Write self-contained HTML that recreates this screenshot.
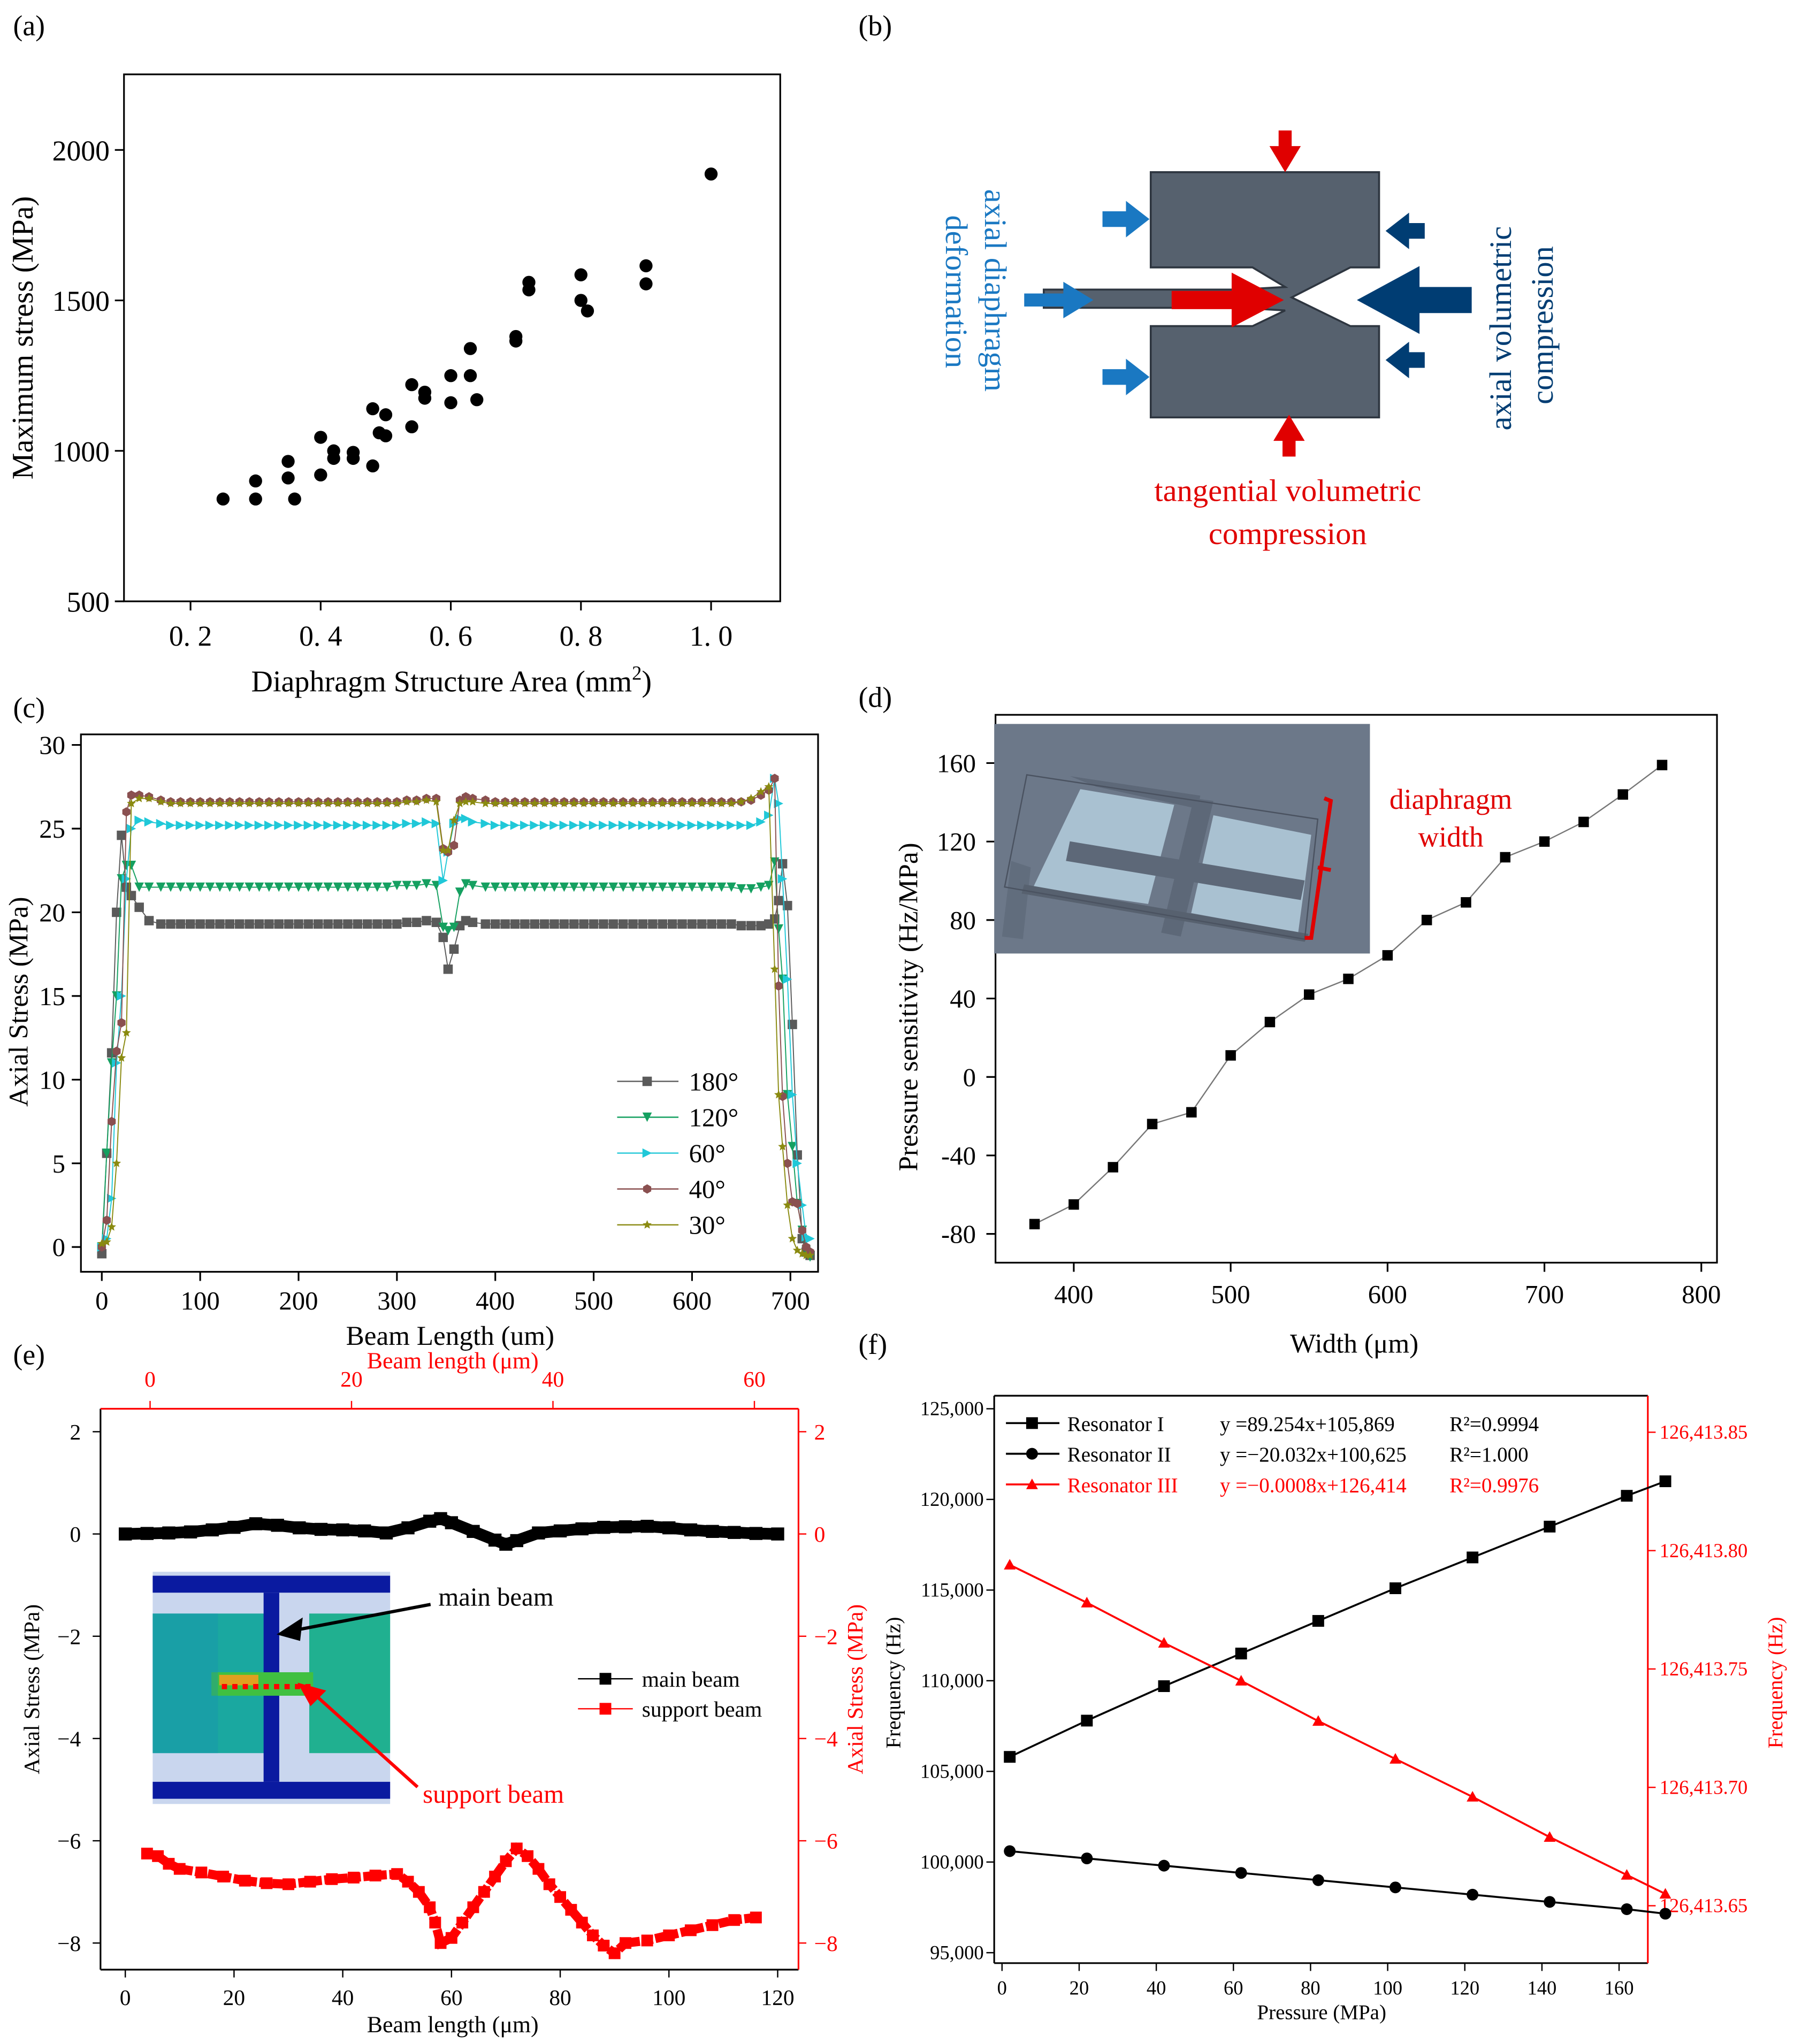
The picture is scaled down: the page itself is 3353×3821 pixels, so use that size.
<!DOCTYPE html>
<html><head><meta charset="utf-8"><style>
html,body{margin:0;padding:0;background:#fff}
svg{display:block}
text{font-family:"Liberation Serif","DejaVu Serif",serif}
</style></head><body>
<svg id="chart" xmlns="http://www.w3.org/2000/svg" width="3353" height="3821" viewBox="0 0 1375 1567">
<rect width="1375" height="1567" fill="#fff"/>
<g id="static" font-size="22">
<text x="10" y="27">(a)</text>
<text x="658" y="27">(b)</text>
<text x="10" y="550">(c)</text>
<text x="658" y="542">(d)</text>
<text x="10" y="1046">(e)</text>
<text x="658" y="1038">(f)</text>

<g>
<path d="M882,132 H1057 V205 H1035 L990,228 L1035,250 H1057 V320 H882 V250 H960 L985,238 L950,236 H800 V222 H950 L985,220 L960,205 H882 Z" fill="#56616e" stroke="#2e3640" stroke-width="1.5"/>
<g>
<path d="M980,100 h10 v12 h7 l-12,20 l-12,-20 h7z" fill="#e00000"/>
<path d="M983,350 h10 v-12 h7 l-12,-20 l-12,20 h7z" fill="#e00000"/>
<path d="M845,162 h18 v-8 l18,14 l-18,14 v-8 h-18z" fill="#1a78c2"/>
<path d="M845,283 h18 v-8 l18,14 l-18,14 v-8 h-18z" fill="#1a78c2"/>
<path d="M785,225 h30 v-9 l23,14 l-23,14 v-9 h-30z" fill="#1a78c2"/>
<path d="M898,223 h46 v-14 l40,21 l-40,21 v-14 h-46z" fill="#e00000"/>
<path d="M1092,171 h-12 v-8 l-18,14 l18,14 v-8 h12z" fill="#003d73"/>
<path d="M1092,270 h-12 v-8 l-18,14 l18,14 v-8 h12z" fill="#003d73"/>
<path d="M1128,220 h-40 v-16 l-48,26 l48,26 v-16 h40z" fill="#003d73"/>
</g>
<text font-size="24" fill="#1a78c2" transform="translate(755,145) rotate(90)">axial diaphragm</text>
<text font-size="24" fill="#1a78c2" transform="translate(725,165) rotate(90)">deformation</text>
<text font-size="24" fill="#003d73" transform="translate(1158,330) rotate(-90)">axial volumetric</text>
<text font-size="24" fill="#003d73" transform="translate(1190,310) rotate(-90)">compression</text>
<text font-size="24" fill="#e00000" x="987" y="384" text-anchor="middle">tangential volumetric</text>
<text font-size="24" fill="#e00000" x="987" y="417" text-anchor="middle">compression</text>
</g>

<g>
<rect x="762" y="555" width="288" height="176" fill="#6c7889"/>
<polygon points="820,595 920,610 918,620 840,603" fill="#5d6878"/>
<polygon points="828,605 900,617 880,693 792,680" fill="#a9c1d1"/>
<polygon points="930,625 1005,640 995,715 913,700" fill="#a9c1d1"/>
<polygon points="820,645 1000,675 997,690 817,660" fill="#5d6878"/>
<polygon points="915,612 930,614 905,718 890,715" fill="#5d6878"/>
<polygon points="775,660 790,665 784,720 768,718" fill="#5d6878" opacity=".7"/>
<polygon points="785,678 1003,716 1000,722 783,685" fill="#57616f"/>
<polygon points="787,594 1010,628 1000,720 770,680" fill="none" stroke="#4a5260" stroke-width="1"/>
<path d="M1015,612 l5,2 l-15,105 l-5,0 M1010,665 l10,2" stroke="#e00000" stroke-width="3" fill="none"/>
</g>
<text font-size="22" fill="#e00000" x="1112" y="620" text-anchor="middle">diaphragm</text>
<text font-size="22" fill="#e00000" x="1112" y="649" text-anchor="middle">width</text>

<g>
<rect x="117" y="1205" width="182" height="178" fill="#c9d6ee"/>
<rect x="117" y="1208" width="182" height="13" fill="#0a1aa0"/>
<rect x="117" y="1366" width="182" height="13" fill="#0a1aa0"/>
<rect x="117" y="1237" width="90" height="107" fill="#1aa8a0"/>
<rect x="237" y="1237" width="62" height="107" fill="#20b090"/>
<rect x="202" y="1221" width="12" height="145" fill="#0a1aa0"/>
<rect x="162" y="1282" width="78" height="18" fill="#40c040"/>
<rect x="168" y="1284" width="30" height="8" fill="#e0a020"/>
<line x1="170" y1="1293" x2="240" y2="1293" stroke="#f00" stroke-width="4" stroke-dasharray="4,4"/>
<rect x="117" y="1237" width="50" height="107" fill="#1890b0" opacity=".4"/>
</g>
<line x1="330" y1="1230" x2="225" y2="1250" stroke="#000" stroke-width="2.5"/>
<polygon points="212,1253 232,1240 230,1258" fill="#000"/>
<line x1="320" y1="1370" x2="240" y2="1298" stroke="#f00" stroke-width="2.5"/>
<polygon points="228,1290 250,1296 238,1308" fill="#f00"/>
<text font-size="20" x="336" y="1231">main beam</text>
<text font-size="20" fill="#f00" x="324" y="1382">support beam</text>
</g>
<g id="dyn"></g>
</svg>
<script>
const NS='http://www.w3.org/2000/svg';
const root=document.getElementById('dyn');
function mk(tag,attrs,parent){const e=document.createElementNS(NS,tag);for(const k in attrs)e.setAttribute(k,attrs[k]);(parent||root).appendChild(e);return e;}
function txt(s,attrs,parent){const e=mk('text',attrs,parent);e.textContent=s;return e;}

const aX=[0.25,0.30,0.30,0.35,0.35,0.36,0.40,0.40,0.42,0.42,0.45,0.45,0.48,0.48,0.49,0.50,0.50,0.54,0.54,0.56,0.56,0.60,0.60,0.63,0.63,0.64,0.70,0.70,0.72,0.72,0.80,0.80,0.81,0.90,0.90,1.00];
const aY=[840,900,840,965,910,840,1045,920,1000,975,995,975,1140,950,1060,1120,1050,1220,1080,1195,1175,1250,1160,1340,1250,1170,1380,1365,1560,1535,1585,1500,1465,1615,1555,1920];
const aXTicks=[0.2,0.4,0.6,0.8,1.0];
const aXLabels=['0. 2','0. 4','0. 6','0. 8','1. 0'];
const aYTicks=[500,1000,1500,2000];

const cX=[0,5,10,15,20,25,30,38,48,60,70,80,90,100,110,120,130,140,150,160,170,180,190,200,210,220,230,240,250,260,270,280,290,300,310,320,330,340,347,352,358,364,370,377,390,400,410,420,430,440,450,460,470,480,490,500,510,520,530,540,550,560,570,580,590,600,610,620,630,640,650,660,670,678,684,688,692,697,702,707,712,716,720];
const c180=[-0.4,5.6,11.6,20,24.6,21.5,21,20.3,19.5,19.3,19.3,19.3,19.3,19.3,19.3,19.3,19.3,19.3,19.3,19.3,19.3,19.3,19.3,19.3,19.3,19.3,19.3,19.3,19.3,19.3,19.3,19.3,19.3,19.3,19.4,19.4,19.5,19.4,18.5,16.6,17.8,19.2,19.5,19.4,19.3,19.3,19.3,19.3,19.3,19.3,19.3,19.3,19.3,19.3,19.3,19.3,19.3,19.3,19.3,19.3,19.3,19.3,19.3,19.3,19.3,19.3,19.3,19.3,19.3,19.3,19.2,19.2,19.2,19.3,19.6,20.7,22.9,20.4,13.3,5.5,0.5,-0.3,-0.5];
const c120=[0,5.6,11,15,22,22.8,22.8,21.5,21.5,21.5,21.5,21.5,21.5,21.5,21.5,21.5,21.5,21.5,21.5,21.5,21.5,21.5,21.5,21.5,21.5,21.5,21.5,21.5,21.5,21.5,21.5,21.5,21.5,21.6,21.6,21.6,21.7,21.6,19.1,18.9,19.1,21.2,21.7,21.6,21.5,21.5,21.5,21.5,21.5,21.5,21.5,21.5,21.5,21.5,21.5,21.5,21.5,21.5,21.5,21.5,21.5,21.5,21.5,21.5,21.5,21.5,21.5,21.5,21.5,21.5,21.4,21.4,21.5,21.6,23,19,16,9.1,6,2.6,1,-0.2,-0.6];
const c60=[0,0.5,2.9,11,15,22,25,25.5,25.4,25.3,25.2,25.2,25.2,25.2,25.2,25.2,25.2,25.2,25.2,25.2,25.2,25.2,25.2,25.2,25.2,25.2,25.2,25.2,25.2,25.2,25.2,25.2,25.2,25.2,25.3,25.3,25.4,25.3,21.9,23.6,25.3,25.6,25.6,25.4,25.3,25.2,25.2,25.2,25.2,25.2,25.2,25.2,25.2,25.2,25.2,25.2,25.2,25.2,25.2,25.2,25.2,25.2,25.2,25.2,25.2,25.2,25.2,25.2,25.2,25.2,25.2,25.2,25.4,25.8,28,26.5,22,16,9.1,5,2.5,0.6,0.5];
const c40=[0,1.6,7.5,11.7,13.4,26,27,27,26.9,26.7,26.6,26.6,26.6,26.6,26.6,26.6,26.6,26.6,26.6,26.6,26.6,26.6,26.6,26.6,26.6,26.6,26.6,26.6,26.6,26.6,26.6,26.6,26.6,26.6,26.7,26.7,26.8,26.8,23.8,23.6,24,26.7,26.9,26.8,26.7,26.6,26.6,26.6,26.6,26.6,26.6,26.6,26.6,26.6,26.6,26.6,26.6,26.6,26.6,26.6,26.6,26.6,26.6,26.6,26.6,26.6,26.6,26.6,26.6,26.6,26.6,26.7,27.0,27.3,28,15.6,9,5,2.7,2.6,1,0,-0.3];
const c30=[0.2,0.3,1.2,5,11.3,12.8,26.5,26.8,26.8,26.6,26.5,26.5,26.5,26.5,26.5,26.5,26.5,26.5,26.5,26.5,26.5,26.5,26.5,26.5,26.5,26.5,26.5,26.5,26.5,26.5,26.5,26.5,26.5,26.5,26.6,26.6,26.7,26.6,23.7,23.7,25.5,26.5,26.6,26.6,26.5,26.5,26.5,26.5,26.5,26.5,26.5,26.5,26.5,26.5,26.5,26.5,26.5,26.5,26.5,26.5,26.5,26.5,26.5,26.5,26.5,26.5,26.5,26.5,26.5,26.5,26.6,26.8,27.2,27.5,16.6,9.1,6,2.5,0.5,-0.2,-0.4,-0.5,-0.5];
const cXTicks=[0,100,200,300,400,500,600,700];
const cYTicks=[0,5,10,15,20,25,30];

const dX=[375,400,425,450,475,500,525,550,575,600,625,650,675,700,725,750,775];
const dY=[-75,-65,-46,-24,-18,11,28,42,50,62,80,89,112,120,130,144,159];
const dXTicks=[400,500,600,700,800];
const dYTicks=[-80,-40,0,40,80,120,160];

const eMainX=[0,4,8,12,16,20,24,28,32,36,40,44,48,52,56,58,60,64,68,70,72,76,80,84,88,92,96,100,104,108,112,116,120];
const eMainY=[0,0.01,0.02,0.04,0.08,0.13,0.2,0.17,0.12,0.09,0.08,0.06,0.02,0.12,0.25,0.3,0.22,0.05,-0.12,-0.2,-0.13,0.02,0.06,0.1,0.13,0.14,0.15,0.12,0.08,0.05,0.03,0.01,0];
const eSupX=[4,6,8,10,14,18,22,26,30,34,38,42,46,50,52,54,56,57,58,60,62,64,66,68,70,72,74,76,78,80,82,84,86,88,90,92,96,100,104,108,112,116];
const eSupY=[-6.25,-6.3,-6.45,-6.55,-6.62,-6.7,-6.78,-6.83,-6.85,-6.8,-6.75,-6.72,-6.68,-6.65,-6.8,-7.0,-7.3,-7.6,-8.0,-7.9,-7.6,-7.3,-7.0,-6.7,-6.4,-6.15,-6.3,-6.55,-6.85,-7.1,-7.35,-7.6,-7.85,-8.05,-8.2,-8.0,-7.95,-7.85,-7.75,-7.65,-7.55,-7.5];
const eBotTicks=[0,20,40,60,80,100,120];
const eTopTicks=[0,20,40,60];
const eYTicks=[2,0,-2,-4,-6,-8];

const fX=[2,22,42,62,82,102,122,142,162,172];
const fR1=[105800,107800,109700,111500,113300,115100,116800,118500,120200,121000];
const fR2=[100600,100200,99800,99400,99000,98600,98200,97800,97400,97150];
const fR3=[126413.794,126413.778,126413.761,126413.745,126413.728,126413.712,126413.696,126413.679,126413.663,126413.655];
const fXTicks=[0,20,40,60,80,100,120,140,160];
const fYTicks=[95000,100000,105000,110000,115000,120000,125000];
const fRTicks=[126413.65,126413.70,126413.75,126413.80,126413.85];

function marker(type,x,y,s,fill,g){
  if(type==='sq')return mk('rect',{x:x-s,y:y-s,width:2*s,height:2*s,fill:fill},g);
  if(type==='circ')return mk('circle',{cx:x,cy:y,r:s,fill:fill},g);
  if(type==='tdown')return mk('polygon',{points:`${x-s},${y-s} ${x+s},${y-s} ${x},${y+s}`,fill:fill},g);
  if(type==='tup')return mk('polygon',{points:`${x-s},${y+s*0.8} ${x+s},${y+s*0.8} ${x},${y-s}`,fill:fill},g);
  if(type==='tright')return mk('polygon',{points:`${x-s},${y-s} ${x-s},${y+s} ${x+s},${y}`,fill:fill},g);
  if(type==='hex'){let p=[];for(let i=0;i<6;i++){const a=Math.PI/3*i+Math.PI/6;p.push((x+s*Math.cos(a))+','+(y+s*Math.sin(a)));}return mk('polygon',{points:p.join(' '),fill:fill},g);}
  if(type==='star'){let p=[];for(let i=0;i<10;i++){const r=i%2?s*0.45:s;const a=-Math.PI/2+Math.PI/5*i;p.push((x+r*Math.cos(a))+','+(y+r*Math.sin(a)));}return mk('polygon',{points:p.join(' '),fill:fill},g);}
}

{
const ax=v=>146+(v-0.2)*498.75, ay=v=>461-(v-500)*0.2307;
const g=mk('g',{});


const box=mk('rect',{x:95,y:57,width:503,height:404,fill:'none',stroke:'#000','stroke-width':1.3},g);


aXTicks.forEach((t,i)=>{const x=ax(t);mk('line',{x1:x,y1:461,x2:x,y2:468,stroke:'#000','stroke-width':1.3},g);
 const l=txt(aXLabels[i],{x:x,y:495,'text-anchor':'middle','font-size':22},g);
 
 });
aYTicks.forEach(t=>{const y=ay(t);mk('line',{x1:95,y1:y,x2:88,y2:y,stroke:'#000','stroke-width':1.3},g);
 const l=txt(String(t),{x:84,y:y+8,'text-anchor':'end','font-size':22},g);
 
 });
aX.forEach((v,i)=>{const c=mk('circle',{cx:ax(v),cy:ay(aY[i]),r:5,fill:'#000'},g);
 
 });
const xt=txt('',{x:346,y:530,'text-anchor':'middle','font-size':23},g);
xt.innerHTML='Diaphragm Structure Area (mm<tspan dy="-9" font-size="15">2</tspan><tspan dy="9">)</tspan>';


const yt=txt('Maximum stress (MPa)',{transform:'translate(25,259) rotate(-90)','text-anchor':'middle','font-size':23},g);


}

{
const cx=v=>78+v*0.754, cy=v=>956-v*12.83;
const g=mk('g',{});


const box=mk('rect',{x:62,y:563,width:565,height:412,fill:'none',stroke:'#000','stroke-width':1.3},g);


cXTicks.forEach(t=>{const x=cx(t);mk('line',{x1:x,y1:975,x2:x,y2:982,stroke:'#000','stroke-width':1.3},g);
 const l=txt(String(t),{x:x,y:1004,'text-anchor':'middle','font-size':20},g);
 
 });
cYTicks.forEach(t=>{const y=cy(t);mk('line',{x1:62,y1:y,x2:55,y2:y,stroke:'#000','stroke-width':1.3},g);
 const l=txt(String(t),{x:50,y:y+7,'text-anchor':'end','font-size':20},g);
 
 });
const series=[['180°',c180,'#5a5a5a','sq'],['120°',c120,'#14a060','tdown'],['60°',c60,'#20c8d8','tright'],['40°',c40,'#8a5050','hex'],['30°',c30,'#8a8a10','star']];
series.forEach((s,si)=>{
 const sg=mk('g',{},g);
 
 
 mk('polyline',{points:cX.map((x,i)=>cx(x)+','+cy(s[1][i])).join(' '),fill:'none',stroke:s[2],'stroke-width':0.8},sg);
 cX.forEach((x,i)=>{const m=marker(s[3],cx(x),cy(s[1][i]),3.6,s[2],sg);
  
  });
 const ly=829+si*27.5;
 mk('line',{x1:473,y1:ly,x2:520,y2:ly,stroke:s[2],'stroke-width':1},sg);
 marker(s[3],496,ly,3.6,s[2],sg);
 const l=txt(s[0],{x:528,y:ly+7,'font-size':20},sg);
 
 
});
const xt=txt('Beam Length (um)',{x:345,y:1031,'text-anchor':'middle','font-size':21},g);


const yt=txt('Axial Stress (MPa)',{transform:'translate(21,768) rotate(-90)','text-anchor':'middle','font-size':21},g);


}

{
const dx=v=>823+(v-400)*1.2025, dy=v=>585-(v-160)*1.504;
const g=mk('g',{});


document.getElementById('chart').insertBefore(g,document.getElementById('static'));
const box=mk('rect',{x:763,y:548,width:553,height:420,fill:'none',stroke:'#000','stroke-width':1.3},g);


dXTicks.forEach(t=>{const x=dx(t);mk('line',{x1:x,y1:968,x2:x,y2:975,stroke:'#000','stroke-width':1.3},g);
 const l=txt(String(t),{x:x,y:999,'text-anchor':'middle','font-size':20},g);
 
 });
dYTicks.forEach(t=>{const y=dy(t);mk('line',{x1:763,y1:y,x2:756,y2:y,stroke:'#000','stroke-width':1.3},g);
 const l=txt(String(t),{x:748,y:y+7,'text-anchor':'end','font-size':20},g);
 
 });
const ln=mk('polyline',{points:dX.map((x,i)=>dx(x)+','+dy(dY[i])).join(' '),fill:'none',stroke:'#777','stroke-width':1},g);


dX.forEach((x,i)=>{const m=marker('sq',dx(x),dy(dY[i]),4,'#000',g);
 
 });
const xt=txt('Width (μm)',{x:1038,y:1037,'text-anchor':'middle','font-size':21},g);


const yt=txt('Pressure sensitivity (Hz/MPa)',{transform:'translate(703,772) rotate(-90)','text-anchor':'middle','font-size':21},g);


}

{
const ex=v=>96+v*4.167, etx=v=>115+v*7.72, ey=v=>1176-v*39.2;
const g=mk('g',{});


document.getElementById('chart').insertBefore(g,document.getElementById('static'));
mk('line',{x1:77,y1:1510,x2:612,y2:1510,stroke:'#000','stroke-width':1.3},g);
mk('line',{x1:77,y1:1080,x2:77,y2:1510,stroke:'#000','stroke-width':1.3},g);
mk('line',{x1:77,y1:1080,x2:612,y2:1080,stroke:'#f00','stroke-width':1.3},g);
mk('line',{x1:612,y1:1080,x2:612,y2:1510,stroke:'#f00','stroke-width':1.3},g);
eBotTicks.forEach(t=>{const x=ex(t);mk('line',{x1:x,y1:1510,x2:x,y2:1516,stroke:'#000'},g);
 const l=txt(String(t),{x:x,y:1537,'text-anchor':'middle','font-size':17,'font-family':'Liberation Sans'},g);
 
 });
eTopTicks.forEach(t=>{const x=etx(t);mk('line',{x1:x,y1:1080,x2:x,y2:1074,stroke:'#f00'},g);
 const l=txt(String(t),{x:x,y:1063,'text-anchor':'middle','font-size':17,fill:'#f00','font-family':'Liberation Sans'},g);
 
 });
eYTicks.forEach(t=>{const y=ey(t);const s=t<0?'−'+(-t):String(t);
 mk('line',{x1:77,y1:y,x2:71,y2:y,stroke:'#000'},g);
 mk('line',{x1:612,y1:y,x2:618,y2:y,stroke:'#f00'},g);
 const l=txt(s,{x:62,y:y+6,'text-anchor':'end','font-size':17,'font-family':'Liberation Sans'},g);
 
 
 const r=txt(s,{x:624,y:y+6,'font-size':17,fill:'#f00','font-family':'Liberation Sans'},g);
 
 });
const m1=mk('polyline',{points:eMainX.map((x,i)=>ex(x)+','+ey(eMainY[i])).join(' '),fill:'none',stroke:'#000','stroke-width':9},g);


eMainX.forEach((x,i)=>{const m=marker('sq',ex(x),ey(eMainY[i]),5,'#000',g);
 
 });
const s1=mk('polyline',{points:eSupX.map((x,i)=>ex(x)+','+ey(eSupY[i])).join(' '),fill:'none',stroke:'#f00','stroke-width':7,'stroke-dasharray':'8,2'},g);


eSupX.forEach((x,i)=>{const m=marker('sq',ex(x),ey(eSupY[i]),4.5,'#f00',g);
 
 });
mk('line',{x1:443,y1:1287,x2:485,y2:1287,stroke:'#000'},g);marker('sq',464,1287,4.5,'#000',g);
const l1=txt('main beam',{x:492,y:1293,'font-size':17},g);


mk('line',{x1:443,y1:1310,x2:485,y2:1310,stroke:'#f00'},g);marker('sq',464,1310,4.5,'#f00',g);
const l2=txt('support beam',{x:492,y:1316,'font-size':17},g);


const t1=txt('Beam length (μm)',{x:347,y:1558,'text-anchor':'middle','font-size':18},g);


const t2=txt('Beam length (μm)',{x:347,y:1049,'text-anchor':'middle','font-size':18,fill:'#f00'},g);


const t3=txt('Axial Stress (MPa)',{transform:'translate(30,1295) rotate(-90)','text-anchor':'middle','font-size':17},g);


const t4=txt('Axial Stress (MPa)',{transform:'translate(661,1295) rotate(-90)','text-anchor':'middle','font-size':17,fill:'#f00'},g);


}

{
const fx=v=>768+v*2.956, fy=v=>1497-(v-95000)*0.0139, fry=v=>1461-(v-126413.65)*1815;
const g=mk('g',{});


mk('line',{x1:762,y1:1505,x2:1263,y2:1505,stroke:'#000','stroke-width':1.3},g);
mk('line',{x1:762,y1:1070,x2:762,y2:1505,stroke:'#000','stroke-width':1.3},g);
mk('line',{x1:762,y1:1070,x2:1263,y2:1070,stroke:'#000','stroke-width':1.3},g);
mk('line',{x1:1263,y1:1070,x2:1263,y2:1505,stroke:'#f00','stroke-width':1.3},g);
const fmt=v=>v.toLocaleString('en-US');
fXTicks.forEach(t=>{const x=fx(t);mk('line',{x1:x,y1:1505,x2:x,y2:1511,stroke:'#000'},g);
 const l=txt(String(t),{x:x,y:1529,'text-anchor':'middle','font-size':15,'font-family':'Liberation Sans'},g);
 
 });
fYTicks.forEach(t=>{const y=fy(t);mk('line',{x1:762,y1:y,x2:756,y2:y,stroke:'#000'},g);
 const l=txt(fmt(t),{x:754,y:y+5,'text-anchor':'end','font-size':15},g);
 
 });
fRTicks.forEach(t=>{const y=fry(t);mk('line',{x1:1263,y1:y,x2:1269,y2:y,stroke:'#f00'},g);
 const l=txt('126,413.'+t.toFixed(2).split('.')[1],{x:1272,y:y+5,'font-size':15,fill:'#f00'},g);
 
 });
const sers=[[fR1,fy,'#000','sq','resonator-1'],[fR2,fy,'#000','circ','resonator-2'],[fR3,fry,'#f00','tup','resonator-3']];
sers.forEach(s=>{const sg=mk('g',{},g);
 
 
 mk('polyline',{points:fX.map((x,i)=>fx(x)+','+s[1](s[0][i])).join(' '),fill:'none',stroke:s[2],'stroke-width':1.5},sg);
 fX.forEach((x,i)=>{const m=marker(s[3],fx(x),s[1](s[0][i]),4.5,s[2],sg);
  
  });});
const leg=[['Resonator I','y =89.254x+105,869','R²=0.9994','#000','sq'],['Resonator II','y =−20.032x+100,625','R²=1.000','#000','circ'],['Resonator III','y =−0.0008x+126,414','R²=0.9976','#f00','tup']];
leg.forEach((l,i)=>{const y=1091+i*23.5;
 mk('line',{x1:771,y1:y,x2:812,y2:y,stroke:l[3],'stroke-width':1.5},g);marker(l[4],791,y,4.5,l[3],g);
 const a=txt(l[0],{x:818,y:y+6,'font-size':16,fill:l[3]},g);
 
 
 const b=txt(l[1],{x:935,y:y+6,'font-size':16,fill:l[3]},g);
 
 
 const c=txt(l[2],{x:1111,y:y+6,'font-size':16,fill:l[3]},g);
 
 });
const t1=txt('Pressure (MPa)',{x:1013,y:1548,'text-anchor':'middle','font-size':16,'font-family':'Liberation Sans'},g);


const t2=txt('Frequency (Hz)',{transform:'translate(690,1290) rotate(-90)','text-anchor':'middle','font-size':16,'font-family':'Liberation Sans'},g);


const t3=txt('Frequency (Hz)',{transform:'translate(1366,1290) rotate(-90)','text-anchor':'middle','font-size':16,fill:'#f00','font-family':'Liberation Sans'},g);


}
</script>
</body></html>
